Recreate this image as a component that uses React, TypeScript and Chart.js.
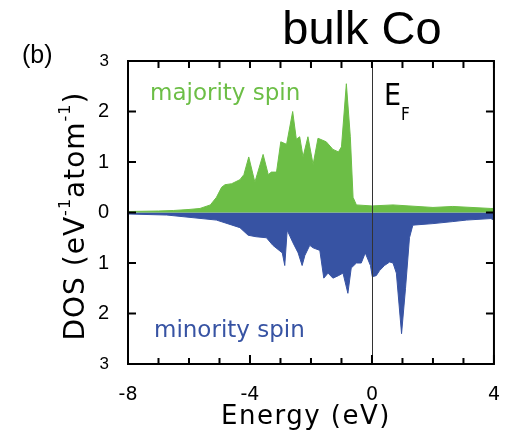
import React, { useEffect, useRef } from "react";
import { Chart, registerables } from "chart.js";
Chart.register(...registerables);

const majorityEnergy = [-8, -7, -6.5, -6, -5.64, -5.3, -5.1, -4.93, -4.82, -4.6, -4.33, -4.2, -4.04, -3.84, -3.57, -3.4, -3.3, -3.13, -2.99, -2.8, -2.6, -2.48, -2.37, -2.26, -2.1, -1.93, -1.77, -1.5, -1.28, -1.1, -1.0, -0.84, -0.71, -0.62, -0.51, 0, 0.69, 2.0, 2.65, 3.9, 4];
const majorityDos = [0.02, 0.03, 0.04, 0.06, 0.08, 0.15, 0.3, 0.5, 0.55, 0.57, 0.65, 0.75, 1.1, 0.6, 1.15, 0.75, 0.8, 0.8, 1.4, 1.35, 2.0, 1.45, 1.5, 1.1, 1.5, 0.95, 1.47, 1.4, 1.25, 1.2, 1.3, 2.55, 1.5, 0.3, 0.15, 0.13, 0.15, 0.1, 0.12, 0.08, 0.08];

const minorityEnergy = [-8, -6.73, -5.1, -4.33, -4.06, -3.8, -3.46, -3.25, -2.94, -2.86, -2.78, -2.59, -2.42, -2.29, -2.2, -2.04, -1.93, -1.71, -1.58, -1.44, -1.28, -1.1, -0.95, -0.79, -0.68, -0.51, -0.35, -0.22, -0.05, 0.01, 0.14, 0.25, 0.41, 0.58, 0.69, 0.8, 0.97, 1.1, 1.23, 1.34, 2.0, 2.65, 3.1, 3.9, 4];
const minorityDos = [0.03, 0.05, 0.15, 0.3, 0.45, 0.48, 0.5, 0.65, 0.8, 1.05, 0.35, 0.6, 0.8, 1.05, 0.85, 0.65, 0.7, 0.75, 1.3, 1.2, 1.3, 1.25, 1.2, 1.6, 1.1, 1.0, 1.0, 0.8, 1.05, 1.27, 1.25, 1.15, 1.05, 0.98, 1.0, 1.2, 2.4, 1.5, 0.5, 0.25, 0.22, 0.18, 0.15, 0.12, 0.15];

const yTicks = [-3, -2, -1, 0, 1, 2, 3];
const xTicks = [-8, -4, 0, 4];

const GREEN = "rgb(108,190,70)";
const BLUE = "rgb(55,83,163)";

const decorPlugin = {
  id: "decor",
  afterDatasetsDraw(chart: any) {
    const { ctx, chartArea: a, scales } = chart;
    const xs = scales.x;
    const ys = scales.y;
    ctx.save();
    // Fermi line
    ctx.strokeStyle = "#333";
    ctx.lineWidth = 1;
    const x0 = Math.round(xs.getPixelForValue(0)) + 0.5;
    ctx.beginPath();
    ctx.moveTo(x0, a.top);
    ctx.lineTo(x0, a.bottom);
    ctx.stroke();
    // frame
    ctx.strokeStyle = "#000";
    ctx.lineWidth = 2;
    ctx.strokeRect(a.left, a.top, a.right - a.left, a.bottom - a.top);
    // ticks
    ctx.beginPath();
    for (let e = -8; e <= 4; e++) {
      const px = xs.getPixelForValue(e);
      const len = e % 4 === 0 ? 9 : 6;
      ctx.moveTo(px, a.bottom);
      ctx.lineTo(px, a.bottom - len);
      ctx.moveTo(px, a.top);
      ctx.lineTo(px, a.top + 7);
    }
    for (const v of yTicks) {
      const py = ys.getPixelForValue(v);
      ctx.moveTo(a.left, py);
      ctx.lineTo(a.left + 8, py);
      ctx.moveTo(a.right, py);
      ctx.lineTo(a.right - 8, py);
    }
    ctx.stroke();

    // texts
    ctx.fillStyle = "#000";
    ctx.textBaseline = "alphabetic";
    ctx.textAlign = "center";
    ctx.font = "47px 'Liberation Sans'";
    ctx.fillText("bulk Co", 362, 44);
    ctx.font = "25px 'Liberation Sans'";
    ctx.textAlign = "left";
    ctx.fillText("(b)", 22, 63);

    ctx.font = "30px 'DejaVu Sans Condensed', 'DejaVu Sans'";
    ctx.fillText("E", 384, 105);
    ctx.font = "17px 'DejaVu Sans Condensed', 'DejaVu Sans'";
    ctx.fillText("F", 401, 120);

    ctx.font = "23px 'DejaVu Sans'";
    ctx.fillStyle = GREEN;
    ctx.fillText("majority spin", 150, 100);
    ctx.fillStyle = BLUE;
    ctx.fillText("minority spin", 154, 337);

    ctx.fillStyle = "#000";
    ctx.textAlign = "center";
    ctx.font = "26px 'DejaVu Sans'";
    (ctx as any).letterSpacing = "1.5px";
    ctx.fillText("Energy (eV)", 306, 424);

    // y title with superscripts
    (ctx as any).letterSpacing = "1px";
    ctx.translate(84, 216);
    ctx.rotate(-Math.PI / 2);
    const big = "28px 'DejaVu Sans'";
    const small = "16px 'DejaVu Sans'";
    const parts: [string, boolean][] = [["DOS (eV", false], ["-1", true], ["atom", false], ["-1", true], [")", false]];
    let total = 0;
    for (const [t, s] of parts) {
      ctx.font = s ? small : big;
      total += ctx.measureText(t).width;
    }
    let cx = -total / 2;
    ctx.textAlign = "left";
    for (const [t, s] of parts) {
      ctx.font = s ? small : big;
      ctx.fillText(t, cx, s ? -14 : 0);
      cx += ctx.measureText(t).width;
    }
    ctx.restore();
  },
};

export default function App() {
  const ref = useRef<HTMLCanvasElement | null>(null);
  useEffect(() => {
    if (!ref.current) return;
    const chart = new Chart(ref.current, {
      type: "line",
      data: {
        datasets: [
          {
            label: "majority spin",
            data: majorityEnergy.map((e, i) => ({ x: e, y: majorityDos[i] })),
            borderColor: GREEN,
            backgroundColor: GREEN,
            borderWidth: 1,
            pointRadius: 0,
            fill: "origin",
            tension: 0,
          },
          {
            label: "minority spin",
            data: minorityEnergy.map((e, i) => ({ x: e, y: -minorityDos[i] })),
            borderColor: BLUE,
            backgroundColor: BLUE,
            borderWidth: 1,
            pointRadius: 0,
            fill: "origin",
            tension: 0,
          },
        ],
      },
      options: {
        animation: false,
        responsive: false,
        layout: { padding: { left: 0, right: 18, top: 61, bottom: 0 } },
        plugins: { legend: { display: false }, tooltip: { enabled: false }, title: { display: false } },
        scales: {
          x: {
            type: "linear",
            min: -8,
            max: 4,
            grid: { display: false },
            border: { display: false },
            afterBuildTicks: (s: any) => {
              s.ticks = xTicks.map((v) => ({ value: v }));
            },
            afterFit: (s: any) => {
              s.height = 73;
            },
            ticks: {
              padding: 12,
              color: "#000",
              font: { family: "'DejaVu Sans'", size: 19 },
              maxRotation: 0,
            },
          },
          y: {
            type: "linear",
            min: -3,
            max: 3,
            grid: { display: false },
            border: { display: false },
            afterBuildTicks: (s: any) => {
              s.ticks = yTicks.map((v) => ({ value: v }));
            },
            afterFit: (s: any) => {
              s.width = 128;
            },
            ticks: {
              padding: 11,
              color: "#000",
              font: (c: any) => ({
                family: "'Liberation Sans'",
                size: c.tick && Math.abs(c.tick.value) === 3 ? 17 : 20,
              }),
              callback: (v: any) => String(Math.abs(Number(v))),
            },
          },
        },
      },
      plugins: [decorPlugin],
    });
    return () => chart.destroy();
  }, []);
  return (
    <div style={{ position: "fixed", left: 0, top: 0, width: 512, height: 437, background: "#fff" }}>
      <canvas ref={ref} width={512} height={437} style={{ width: 512, height: 437 }} />
    </div>
  );
}
